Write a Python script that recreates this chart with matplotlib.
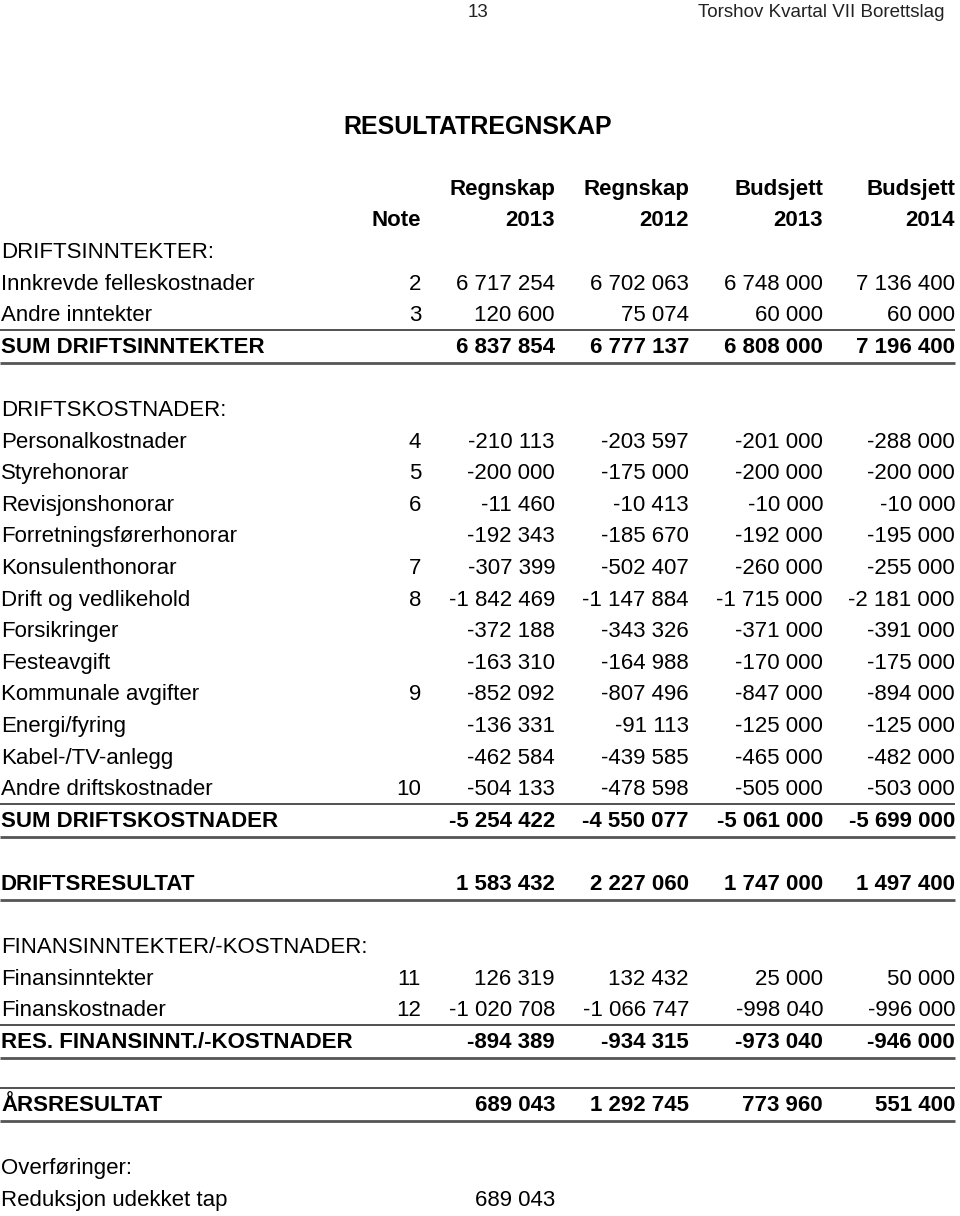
import matplotlib
matplotlib.use("Agg")
import matplotlib.pyplot as plt

# Rows of the statement ("" = blank spacer row)
labels = [
    "DRIFTSINNTEKTER:", "Innkrevde felleskostnader", "Andre inntekter", "SUM DRIFTSINNTEKTER", "",
    "DRIFTSKOSTNADER:", "Personalkostnader", "Styrehonorar", "Revisjonshonorar",
    "Forretningsførerhonorar", "Konsulenthonorar", "Drift og vedlikehold", "Forsikringer",
    "Festeavgift", "Kommunale avgifter", "Energi/fyring", "Kabel-/TV-anlegg",
    "Andre driftskostnader", "SUM DRIFTSKOSTNADER", "",
    "DRIFTSRESULTAT", "",
    "FINANSINNTEKTER/-KOSTNADER:", "Finansinntekter", "Finanskostnader",
    "RES. FINANSINNT./-KOSTNADER", "",
    "ÅRSRESULTAT", "",
    "Overføringer:", "Reduksjon udekket tap",
]
notes = [
    None, 2, 3, None, None,
    None, 4, 5, 6, None, 7, 8, None, None, 9, None, None, 10, None, None,
    None, None,
    None, 11, 12, None, None,
    None, None,
    None, None,
]
regnskap_2013 = [
    None, 6717254, 120600, 6837854, None,
    None, -210113, -200000, -11460, -192343, -307399, -1842469, -372188,
    -163310, -852092, -136331, -462584, -504133, -5254422, None,
    1583432, None,
    None, 126319, -1020708, -894389, None,
    689043, None,
    None, 689043,
]
regnskap_2012 = [
    None, 6702063, 75074, 6777137, None,
    None, -203597, -175000, -10413, -185670, -502407, -1147884, -343326,
    -164988, -807496, -91113, -439585, -478598, -4550077, None,
    2227060, None,
    None, 132432, -1066747, -934315, None,
    1292745, None,
    None, None,
]
budsjett_2013 = [
    None, 6748000, 60000, 6808000, None,
    None, -201000, -200000, -10000, -192000, -260000, -1715000, -371000,
    -170000, -847000, -125000, -465000, -505000, -5061000, None,
    1747000, None,
    None, 25000, -998040, -973040, None,
    773960, None,
    None, None,
]
budsjett_2014 = [
    None, 7136400, 60000, 7196400, None,
    None, -288000, -200000, -10000, -195000, -255000, -2181000, -391000,
    -175000, -894000, -125000, -482000, -503000, -5699000, None,
    1497400, None,
    None, 50000, -996000, -946000, None,
    551400, None,
    None, None,
]
header_top = ["Regnskap", "Regnskap", "Budsjett", "Budsjett"]
header_bottom = ["2013", "2012", "2013", "2014"]

bold_rows = ["SUM DRIFTSINNTEKTER", "SUM DRIFTSKOSTNADER", "DRIFTSRESULTAT",
             "RES. FINANSINNT./-KOSTNADER", "ÅRSRESULTAT"]
lines_above = ["SUM DRIFTSINNTEKTER", "SUM DRIFTSKOSTNADER",
               "RES. FINANSINNT./-KOSTNADER", "ÅRSRESULTAT"]
lines_below = ["SUM DRIFTSINNTEKTER", "SUM DRIFTSKOSTNADER", "DRIFTSRESULTAT",
               "RES. FINANSINNT./-KOSTNADER", "ÅRSRESULTAT"]


def fmt(v):
    if v is None:
        return ""
    return f"{v:,}".replace(",", " ")


plt.rcParams["font.family"] = ["Liberation Sans", "DejaVu Sans"]

fig = plt.figure(figsize=(9.6, 12.16), dpi=100)
ax = fig.add_axes([0, 0, 1, 1])
ax.set_xlim(0, 960)
ax.set_ylim(1216, 0)
ax.axis("off")

fs = 16
note_x = 421
col_x = [555, 689, 823, 955]
row0 = 258
pitch = 31.6

# page header and title
ax.text(478, 17, "13", fontsize=13.5, ha="center", va="baseline", color="#222222")
ax.text(945, 17, "Torshov Kvartal VII Borettslag", fontsize=13.5, ha="right",
        va="baseline", color="#222222")
ax.text(343, 134, "RESULTATREGNSKAP", fontsize=18, fontweight="bold", va="baseline")

# column headers
ax.text(note_x, row0 - pitch, "Note", fontsize=fs, fontweight="bold",
        ha="right", va="baseline")
for x, top, bottom in zip(col_x, header_top, header_bottom):
    ax.text(x, row0 - 2 * pitch, top, fontsize=fs, fontweight="bold", ha="right", va="baseline")
    ax.text(x, row0 - pitch, bottom, fontsize=fs, fontweight="bold", ha="right", va="baseline")

cols = [regnskap_2013, regnskap_2012, budsjett_2013, budsjett_2014]
for i, lab in enumerate(labels):
    y = row0 + i * pitch
    weight = "bold" if lab in bold_rows else "normal"
    ax.text(1, y, lab, fontsize=fs, fontweight=weight, va="baseline")
    if notes[i] is not None:
        ax.text(note_x, y, str(notes[i]), fontsize=fs, ha="right", va="baseline")
    for x, col in zip(col_x, cols):
        if col[i] is not None:
            ax.text(x, y, fmt(col[i]), fontsize=fs, fontweight=weight,
                    ha="right", va="baseline")
    if lab in lines_above:
        ax.hlines(y - 23, 0, 955, color="#333333", linewidth=1.2)
    if lab in lines_below:
        ax.hlines(y + 10, 0, 955, color="#555555", linewidth=2)

fig.savefig("out.png", dpi=100)
